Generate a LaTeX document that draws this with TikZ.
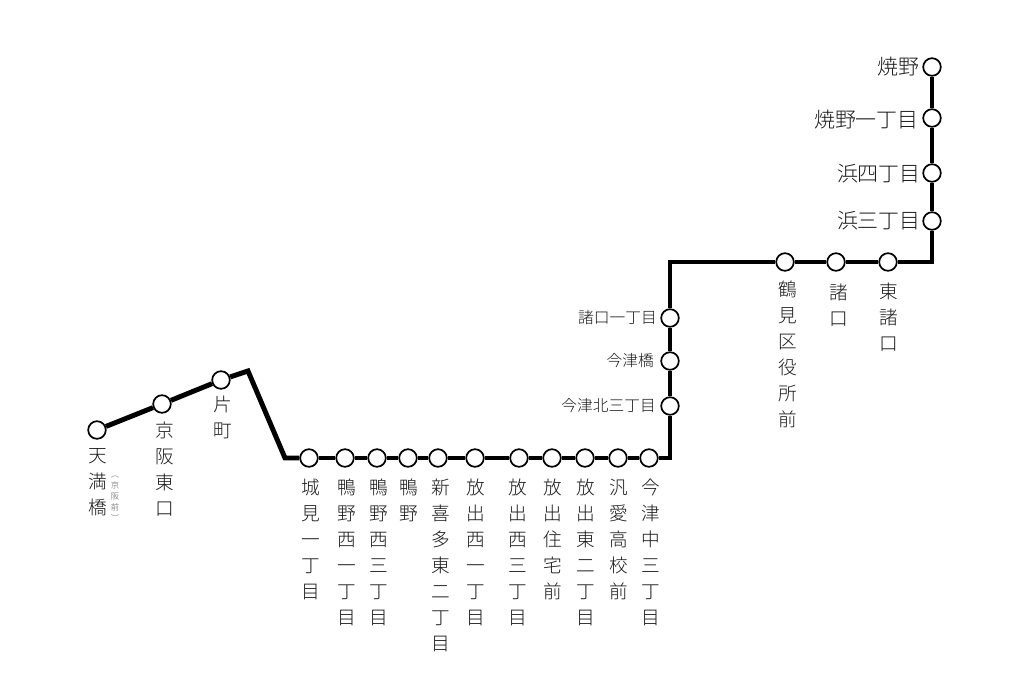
\documentclass[tikz,border=0pt]{standalone}
\usepackage{fontspec}
\setmainfont{Noto Sans CJK JP}[Scale=1]
\newfontfamily\jplight{Noto Sans CJK JP Light}
\tikzset{
  trunk/.style={line width=3.7pt,black,line join=miter,line cap=butt},
  stn/.style={circle,draw=black,fill=white,line width=1.3pt,minimum size=13.2pt,inner sep=0pt},
  vlab/.style={anchor=north,inner sep=0pt,align=center,yshift=8.85pt,xshift=0.6pt,text=black!90,font=\jplight\fontsize{14}{19.5}\selectfont},
  hbig/.style={anchor=east,inner sep=0pt,text=black!90,font=\jplight\fontsize{15.7}{18}\selectfont},
  hsmall/.style={anchor=east,inner sep=0pt,text=black!90,font=\jplight\fontsize{11.8}{14}\selectfont},
  tiny/.style={anchor=north,inner sep=0pt,align=center,text=black!65,font=\jplight\fontsize{6.3}{8.3}\selectfont},
}
\begin{document}
\begin{tikzpicture}[x=0.75pt,y=-0.75pt]
\useasboundingbox (0,0) rectangle (1024,683);
% corners
\coordinate (c1) at (248,371);
\coordinate (c2) at (285,458);
\coordinate (c3) at (670,458);
\coordinate (c4) at (670,262);
\coordinate (c5) at (932,262);
% stations
\foreach \n/\x/\y in {a1/97/430,a2/162/404,a3/221/380,
  b1/309/458,b2/345/458,b3/377/458,b4/408/458,b5/438/458,b6/475/458,b7/519/458,b8/552/458,b9/585/458,b10/618/458,b11/649/458,
  d1/670/406,d2/670/361,d3/670/318,
  e1/785/262,e2/836/262,e3/888/262,
  f1/932/221,f2/932/173,f3/932/118,f4/932/67}
  {\node[stn] (\n) at (\x,\y) {};}
% line
\draw[trunk] (a1) -- (a2);
\draw[trunk] (a2) -- (a3);
\draw[trunk] (a3) -- (c1) -- (c2) -- (b1);
\foreach \p/\q in {b1/b2,b2/b3,b3/b4,b4/b5,b5/b6,b6/b7,b7/b8,b8/b9,b9/b10,b10/b11,d1/d2,d2/d3,e1/e2,e2/e3,f1/f2,f2/f3,f3/f4}
  {\draw[trunk] (\p) -- (\q);}
\draw[trunk] (b11) -- (c3) -- (d1);
\draw[trunk] (d3) -- (c4) -- (e1);
\draw[trunk] (e3) -- (c5) -- (f1);
% vertical labels
\node[vlab] (t1) at (97,456) {\strut 天\\満\\橋};
\node[tiny] (t1b) at (115,476) {︵\\京\\阪\\前\\︶};
\node[vlab] (t2) at (164,431) {\strut 京\\阪\\東\\口};
\node[vlab] (t3) at (222,405) {\strut 片\\町};
\node[vlab] (l1) at (310,488) {\strut 城\\見\\一\\丁\\目};
\node[vlab] (l2) at (346,488) {\strut 鴨\\野\\西\\一\\丁\\目};
\node[vlab] (l3) at (378,488) {\strut 鴨\\野\\西\\三\\丁\\目};
\node[vlab] (l4) at (408,488) {\strut 鴨\\野};
\node[vlab] (l5) at (440,488) {\strut 新\\喜\\多\\東\\二\\丁\\目};
\node[vlab] (l6) at (475,488) {\strut 放\\出\\西\\一\\丁\\目};
\node[vlab] (l7) at (517,488) {\strut 放\\出\\西\\三\\丁\\目};
\node[vlab] (l8) at (552,488) {\strut 放\\出\\住\\宅\\前};
\node[vlab] (l9) at (585,488) {\strut 放\\出\\東\\二\\丁\\目};
\node[vlab] (l10) at (618,488) {\strut 汎\\愛\\高\\校\\前};
\node[vlab] (l11) at (650,488) {\strut 今\\津\\中\\三\\丁\\目};
\node[vlab] (r1) at (787,290) {\strut 鶴\\見\\区\\役\\所\\前};
\node[vlab] (r2) at (838,293) {\strut 諸\\口};
\node[vlab] (r3) at (888,292) {\strut 東\\諸\\口};
% horizontal labels
\node[hsmall] (s1) at (657,318) {諸口一丁目};
\node[hsmall] (s2) at (654,361) {今津橋};
\node[hsmall] (s3) at (656,406) {今津北三丁目};
\node[hbig] (u1) at (920,67) {焼野};
\node[hbig] (u2) at (919,120) {焼野一丁目};
\node[hbig] (u3) at (921,174) {浜四丁目};
\node[hbig] (u4) at (921,221) {浜三丁目};
\end{tikzpicture}
\end{document}
